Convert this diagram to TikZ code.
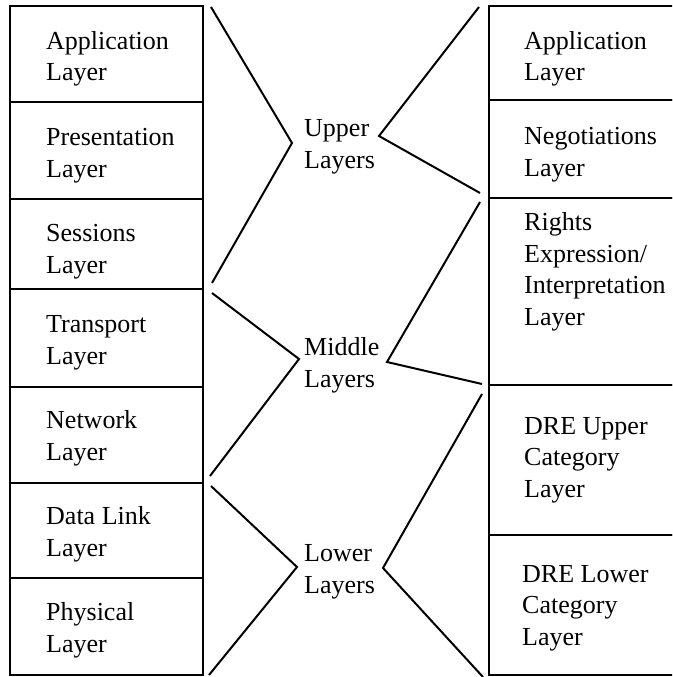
\documentclass[tikz,border=0pt]{standalone}
\usepackage{fontspec}
\setmainfont{Liberation Serif}
\begin{document}
\begin{tikzpicture}[x=1pt,y=-1pt,
  layerbox/.style={draw,line width=2pt},
  txt/.style={anchor=base west,align=left,inner sep=0pt,font=\fontsize{26}{31.5}\selectfont},
  brace/.style={line width=2pt}]
\useasboundingbox (0,0) rectangle (672,677);
\clip (0,0) rectangle (672,677);
% left column
\draw[layerbox] (10,6) rectangle (203,102);
\draw[layerbox] (10,102) rectangle (203,199);
\draw[layerbox] (10,199) rectangle (203,289);
\draw[layerbox] (10,289) rectangle (203,387);
\draw[layerbox] (10,387) rectangle (203,483);
\draw[layerbox] (10,483) rectangle (203,578);
\draw[layerbox] (10,578) rectangle (203,675);
% (anchor = baseline of the last line)
\node[txt] (la) at (46,81) {Application\\Layer};
\node[txt] (lp) at (46,177) {Presentation\\Layer};
\node[txt] (ls) at (46,273) {Sessions\\Layer};
\node[txt] (lt) at (46,364) {Transport\\Layer};
\node[txt] (ln) at (46,460) {Network\\Layer};
\node[txt] (ld) at (46,556) {Data Link\\Layer};
\node[txt] (lph) at (46,652) {Physical\\Layer};
% right column
\draw[layerbox] (489,6) rectangle (690,100);
\draw[layerbox] (489,100) rectangle (690,198);
\draw[layerbox] (489,198) rectangle (690,385);
\draw[layerbox] (489,385) rectangle (690,535);
\draw[layerbox] (489,535) rectangle (690,675);
\node[txt] (ra) at (524,81) {Application\\Layer};
\node[txt] (rn) at (524,176) {Negotiations\\Layer};
\node[txt] (rr) at (524,325) {Rights\\Expression/\\Interpretation\\Layer};
\node[txt] (ru) at (524,497) {DRE Upper\\Category\\Layer};
\node[txt] (rl) at (522,645) {DRE Lower\\Category\\Layer};
% middle labels
\node[txt] (up) at (304,168) {Upper\\Layers};
\node[txt] (mid) at (304,387) {Middle\\Layers};
\node[txt] (low) at (304,593) {Lower\\Layers};
% brackets
\coordinate (u1) at (211,7); \coordinate (uv) at (292,143); \coordinate (u2) at (212,283);
\coordinate (ur1) at (479,7); \coordinate (urv) at (379,136); \coordinate (ur2) at (480,193);
\coordinate (m1) at (212,293); \coordinate (mv) at (299,359); \coordinate (m2) at (210,476);
\coordinate (mr1) at (480,202); \coordinate (mrv) at (387,362); \coordinate (mr2) at (482,384);
\coordinate (w1) at (211,486); \coordinate (wv) at (297,567); \coordinate (w2) at (209,675);
\coordinate (wr1) at (482,394); \coordinate (wrv) at (383,568); \coordinate (wr2) at (483,677);
\draw[brace] (u1) -- (uv) -- (u2);
\draw[brace] (ur1) -- (urv) -- (ur2);
\draw[brace] (m1) -- (mv) -- (m2);
\draw[brace] (mr1) -- (mrv) -- (mr2);
\draw[brace] (w1) -- (wv) -- (w2);
\draw[brace] (wr1) -- (wrv) -- (wr2);
\end{tikzpicture}
\end{document}
